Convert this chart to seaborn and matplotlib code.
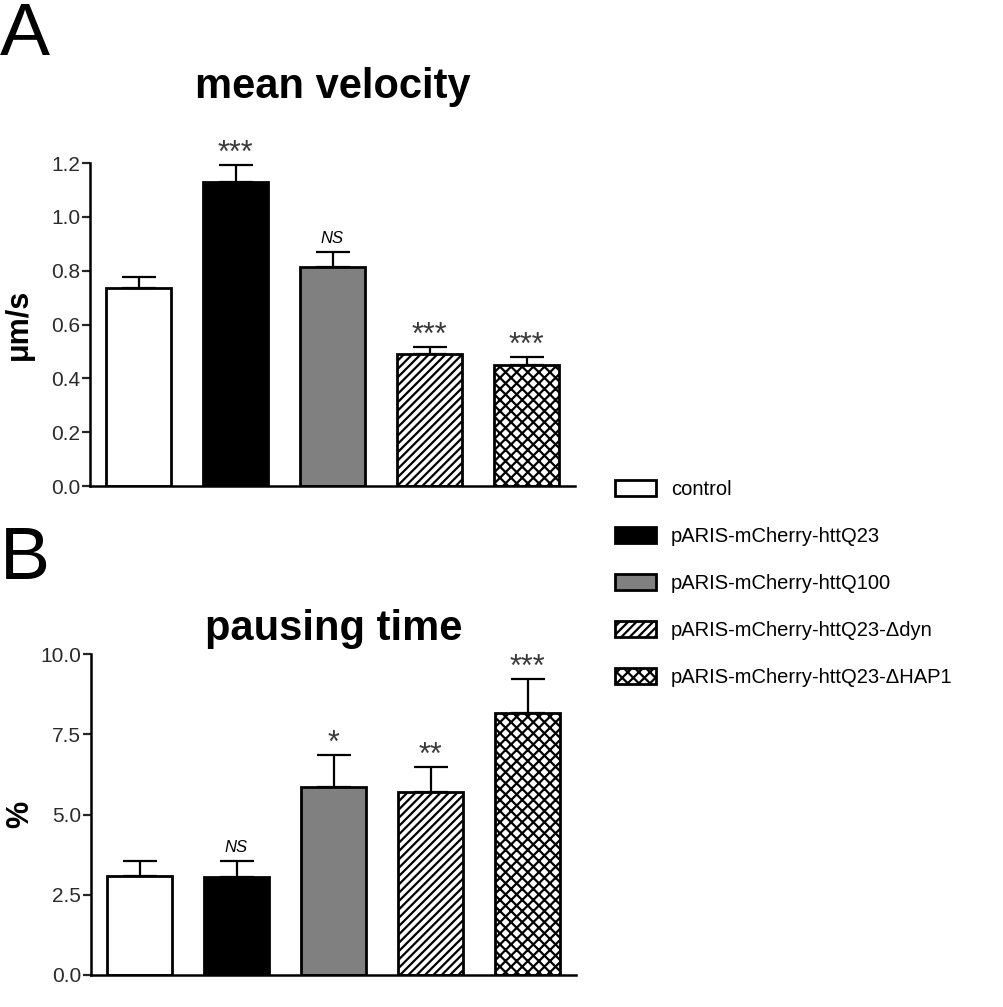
import pandas as pd
import seaborn as sns
import matplotlib.pyplot as plt
from matplotlib.patches import Patch

groups = ['control', 'pARIS-mCherry-httQ23', 'pARIS-mCherry-httQ100',
          'pARIS-mCherry-httQ23-Δdyn', 'pARIS-mCherry-httQ23-ΔHAP1']
colors = ['white', 'black', '#808080', 'white', 'white']
hatches = ['', '', '', '////', 'xxx']

velocity_mean = [0.734, 1.129, 0.813, 0.492, 0.451]
velocity_sem = [0.041, 0.064, 0.055, 0.026, 0.030]
velocity_sig = ['', '***', 'NS', '***', '***']

pausing_mean = [3.08, 3.05, 5.86, 5.70, 8.16]
pausing_sem = [0.47, 0.50, 0.99, 0.78, 1.06]
pausing_sig = ['', 'NS', '*', '**', '***']

sns.set_style('ticks')
plt.rcParams['font.family'] = ['Liberation Sans', 'DejaVu Sans']
plt.rcParams['text.color'] = 'black'
plt.rcParams['axes.labelcolor'] = 'black'
plt.rcParams['hatch.linewidth'] = 1.6
plt.rcParams['hatch.color'] = 'black'

fig = plt.figure(figsize=(10.04, 10.07), dpi=100)
axA = fig.add_axes([90/1004, 1 - 486/1007, 485/1004, 323/1007])
axB = fig.add_axes([91/1004, 1 - 975/1007, 485/1004, 321/1007])


def panel(ax, means, sems, sigs, ylim, yticks, fmt, ylabel, title, pad):
    df = pd.DataFrame({'group': groups, 'value': means})
    sns.barplot(data=df, x='group', y='value', hue='group', palette=colors,
                edgecolor='black', linewidth=2, width=0.66, legend=False,
                errorbar=None, ax=ax, zorder=2)
    for bar, h in zip(ax.patches, hatches):
        bar.set_hatch(h)
    xs = list(range(len(groups)))
    ax.errorbar(xs, means, yerr=[[0] * len(means), sems], fmt='none',
                ecolor='black', elinewidth=1.6, capsize=12, capthick=1.6,
                zorder=3)
    for x, m, s, txt in zip(xs, means, sems, sigs):
        if not txt:
            continue
        if txt == 'NS':
            ax.annotate(txt, (x, m + s), xytext=(0, 10), textcoords='offset points',
                        ha='center', va='center', fontsize=12, style='italic',
                        annotation_clip=False)
        else:
            ax.annotate(txt, (x, m + s), xytext=(0, 8), textcoords='offset points',
                        ha='center', va='center', fontsize=22, color='#3a3a3a',
                        annotation_clip=False)
    ax.set_xlim(-0.5, 4.5)
    ax.set_ylim(*ylim)
    ax.set_yticks(yticks)
    ax.set_yticklabels([fmt.format(t) for t in yticks])
    ax.set_xticks([])
    ax.set_xlabel('')
    ax.set_ylabel(ylabel, fontsize=22, fontweight='bold')
    ax.yaxis.set_label_coords(-0.115, 0.5)
    ax.set_title(title, fontsize=30, fontweight='bold', pad=pad)
    ax.tick_params(axis='y', labelsize=15, labelcolor='#2a2a2a', length=6,
                   width=1.6, pad=1)
    for side in ['top', 'right']:
        ax.spines[side].set_visible(False)
    for side in ['left', 'bottom']:
        ax.spines[side].set_linewidth(1.8)
        ax.spines[side].set_color('black')


panel(axA, velocity_mean, velocity_sem, velocity_sig, (0, 1.2),
      [0.0, 0.2, 0.4, 0.6, 0.8, 1.0, 1.2], '{:.1f}', 'μm/s', 'mean velocity', 47)
panel(axB, pausing_mean, pausing_sem, pausing_sig, (0, 10),
      [0.0, 2.5, 5.0, 7.5, 10.0], '{:.1f}', '%', 'pausing time', 10)

fig.text(0.0, 1 - 55/1007, 'A', fontsize=54, va='baseline')
fig.text(0.0, 1 - 579/1007, 'B', fontsize=54, va='baseline')

handles = [Patch(facecolor=c, edgecolor='black', hatch=h, linewidth=2)
           for c, h in zip(colors, hatches)]
fig.legend(handles, groups, loc='upper left',
           bbox_to_anchor=(615/1004, 1 - 480/1007), frameon=False,
           fontsize=14.5, handlelength=2.05, handleheight=0.88,
           handletextpad=0.72, labelspacing=1.38, borderpad=0,
           borderaxespad=0)

fig.savefig('out.png', dpi=100)
